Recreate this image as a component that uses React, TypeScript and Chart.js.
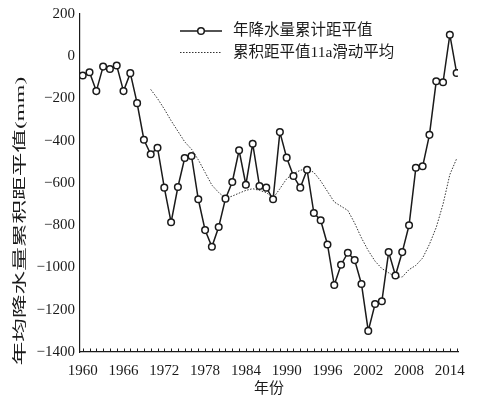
import { useEffect, useRef } from 'react';
import { Chart, registerables } from 'chart.js';

Chart.register(...registerables);

const FONT = "'Liberation Serif', 'Noto Sans CJK SC', serif";
const INK = '#1a1a1a';

const years = [
  1960, 1961, 1962, 1963, 1964, 1965, 1966, 1967, 1968, 1969,
  1970, 1971, 1972, 1973, 1974, 1975, 1976, 1977, 1978, 1979,
  1980, 1981, 1982, 1983, 1984, 1985, 1986, 1987, 1988, 1989,
  1990, 1991, 1992, 1993, 1994, 1995, 1996, 1997, 1998, 1999,
  2000, 2001, 2002, 2003, 2004, 2005, 2006, 2007, 2008, 2009,
  2010, 2011, 2012, 2013, 2014, 2015,
];
const cumAnomaly = [
  -91, -76, -165, -49, -60, -44, -165, -80, -222, -395,
  -464, -433, -622, -786, -619, -482, -472, -677, -823, -902,
  -808, -674, -595, -445, -608, -414, -614, -622, -677, -359,
  -480, -567, -622, -537, -742, -776, -891, -1083, -987, -930,
  -965, -1078, -1300, -1173, -1160, -927, -1038, -927, -800, -528,
  -521, -372, -118, -123, 102, -79,
];
const maYears = [
  1970, 1971, 1972, 1973, 1974, 1975, 1976, 1977, 1978, 1979,
  1980, 1981, 1982, 1983, 1984, 1985, 1986, 1987, 1988, 1989,
  1990, 1991, 1992, 1993, 1994, 1995, 1996, 1997, 1998, 1999,
  2000, 2001, 2002, 2003, 2004, 2005, 2006, 2007, 2008, 2009,
  2010, 2011, 2012, 2013, 2014, 2015,
];
const maValues = [
  -157, -200, -250, -305, -355, -405, -440, -490, -550, -610,
  -645, -672, -662, -648, -635, -627, -635, -645, -672, -627,
  -580, -555, -540, -532, -550, -590, -640, -690, -710, -730,
  -790, -860, -920, -970, -1005, -1025, -1045, -1045, -1010, -990,
  -955, -890, -810, -700, -560, -485,
];
const xLabelYears = [1960, 1966, 1972, 1978, 1984, 1990, 1996, 2002, 2008, 2014];
const seriesNames = ['年降水量累计距平值', '累积距平值11a滑动平均'];
const xTitle = '年份';
const yTitle = '年均降水量累积距平值(mm)';

const inwardTicks = {
  id: 'inwardTicks',
  afterDraw(chart: any) {
    const { ctx, chartArea } = chart;
    const xs = chart.scales.x;
    ctx.save();
    ctx.strokeStyle = INK;
    ctx.lineWidth = 1;
    ctx.beginPath();
    for (const t of xs.ticks) {
      const px = Math.round(xs.getPixelForValue(t.value)) + 0.5;
      ctx.moveTo(px, chartArea.bottom);
      ctx.lineTo(px, chartArea.bottom - 3.5);
    }
    ctx.stroke();
    ctx.restore();
  },
};

const yTitlePlugin = {
  id: 'yTitle',
  afterDraw(chart: any) {
    const { ctx, chartArea } = chart;
    ctx.save();
    ctx.translate(20, (chartArea.top + chartArea.bottom) / 2 + 38);
    ctx.rotate(-Math.PI / 2);
    ctx.scale(1.75, 1);
    ctx.font = `13.5px ${FONT}`;
    ctx.fillStyle = INK;
    ctx.textAlign = 'center';
    ctx.textBaseline = 'middle';
    ctx.fillText(yTitle, 0, 0);
    ctx.restore();
  },
};

const legendPlugin = {
  id: 'customLegend',
  afterDraw(chart: any) {
    const { ctx, chartArea } = chart;
    const x0 = chartArea.left + 100;
    const x1 = chartArea.left + 142;
    const tx = chartArea.left + 153;
    const rows = [chartArea.top + 17, chartArea.top + 38.5];
    ctx.save();
    ctx.strokeStyle = INK;
    ctx.lineWidth = 1.5;
    ctx.beginPath();
    ctx.moveTo(x0, rows[0]);
    ctx.lineTo(x1, rows[0]);
    ctx.stroke();
    ctx.beginPath();
    ctx.arc((x0 + x1) / 2, rows[0], 3.3, 0, Math.PI * 2);
    ctx.fillStyle = '#fff';
    ctx.fill();
    ctx.stroke();
    ctx.lineWidth = 1;
    ctx.strokeStyle = '#333';
    ctx.setLineDash([1.5, 1.5]);
    ctx.beginPath();
    ctx.moveTo(x0, rows[1]);
    ctx.lineTo(x1, rows[1]);
    ctx.stroke();
    ctx.setLineDash([]);
    ctx.font = `15.5px ${FONT}`;
    ctx.fillStyle = INK;
    ctx.textAlign = 'left';
    ctx.textBaseline = 'middle';
    ctx.fillText(seriesNames[0], tx, rows[0]);
    ctx.fillText(seriesNames[1], tx, rows[1]);
    ctx.restore();
  },
};

export default function App() {
  const ref = useRef<HTMLCanvasElement | null>(null);

  useEffect(() => {
    document.body.style.margin = '0';
    const canvas = ref.current;
    if (!canvas) return;
    const chart = new Chart(canvas, {
      type: 'line',
      data: {
        datasets: [
          {
            label: seriesNames[0],
            data: years.map((y, i) => ({ x: y, y: cumAnomaly[i] })),
            borderColor: INK,
            borderWidth: 1.5,
            pointRadius: 3.3,
            pointBackgroundColor: '#fff',
            pointBorderColor: INK,
            pointBorderWidth: 1.5,
            tension: 0,
            fill: false,
          },
          {
            label: seriesNames[1],
            data: maYears.map((y, i) => ({ x: y, y: maValues[i] })),
            borderColor: '#333',
            borderWidth: 1,
            borderDash: [1.5, 1.5],
            pointRadius: 0,
            tension: 0,
            fill: false,
          },
        ],
      },
      options: {
        animation: false,
        responsive: false,
        maintainAspectRatio: false,
        layout: { padding: { top: 12, right: 34, left: 0, bottom: 0 } },
        plugins: { legend: { display: false }, tooltip: { enabled: false } },
        scales: {
          x: {
            type: 'linear',
            min: 1959.6,
            max: 2015.2,
            grid: { display: false },
            border: { display: true, color: INK, width: 1.2 },
            afterBuildTicks(scale: any) {
              scale.ticks = years.map((v) => ({ value: v }));
            },
            afterFit(scale: any) {
              scale.height = 47;
            },
            ticks: {
              autoSkip: false,
              maxRotation: 0,
              padding: 2,
              color: INK,
              font: { family: FONT, size: 15 },
              callback: (v: any) => (xLabelYears.includes(Number(v)) ? String(v) : ''),
            },
            title: {
              display: true,
              text: xTitle,
              color: INK,
              font: { family: FONT, size: 15 },
              padding: { top: 0, bottom: 1 },
            },
          },
          y: {
            type: 'linear',
            min: -1400,
            max: 200,
            grid: { display: false, drawTicks: false },
            border: { display: true, color: INK, width: 1.2 },
            afterFit(scale: any) {
              scale.width = 80;
            },
            ticks: {
              stepSize: 200,
              padding: 5,
              color: INK,
              font: { family: FONT, size: 15 },
              callback: (v: any) => (Number(v) < 0 ? '\u2212' + Math.abs(Number(v)) : String(v)),
            },
          },
        },
      },
      plugins: [inwardTicks, yTitlePlugin, legendPlugin],
    });
    return () => chart.destroy();
  }, []);

  return (
    <div style={{ width: 492, height: 399 }}>
      <canvas ref={ref} width={492} height={399} style={{ width: 492, height: 399, display: 'block' }} />
    </div>
  );
}
